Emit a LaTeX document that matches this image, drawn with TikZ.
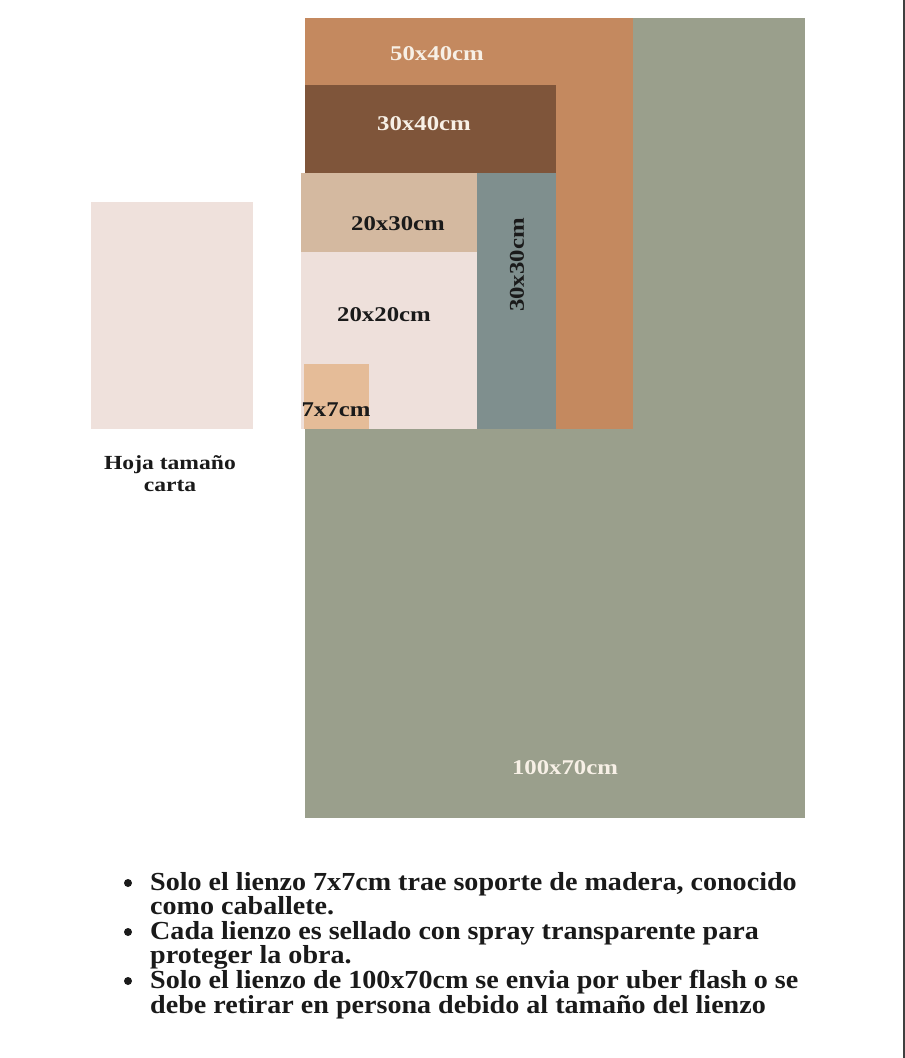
\documentclass[tikz,border=0pt]{standalone}
\usepackage{fontspec}
\setmainfont{Liberation Serif}
\newfontfamily\notefont[FakeStretch=1.08]{Liberation Serif}
\newfontfamily\sizefont[FakeStretch=1.18]{Liberation Serif}
\usetikzlibrary{positioning}

\definecolor{sage}{HTML}{9A9F8C}
\definecolor{terracotta}{HTML}{C4895F}
\definecolor{walnut}{HTML}{7F553A}
\definecolor{sand}{HTML}{D4B9A0}
\definecolor{slate}{HTML}{7F8F8E}
\definecolor{blush}{HTML}{EEE0DB}
\definecolor{peach}{HTML}{E5BC98}
\definecolor{paper}{HTML}{EFE1DC}
\definecolor{cream}{HTML}{F7F0E6}
\definecolor{ink}{HTML}{1A1A1A}

\begin{document}
\begin{tikzpicture}[
    x=1pt, y=-1pt,
    canvas/.style={
        rectangle,
        anchor=north west,
        inner sep=0pt,
        outer sep=0pt
    },
    size/.style={
        font=\sizefont\bfseries\fontsize{21}{22}\selectfont,
        inner sep=0pt
    },
    note/.style={
        anchor=north west,
        align=left,
        inner sep=0pt,
        text=ink,
        font=\notefont\bfseries\fontsize{26}{23}\selectfont
    },
    dot/.style={
        circle,
        fill=ink,
        inner sep=0pt,
        minimum size=8pt
    }
]
    \useasboundingbox (0,0) rectangle (905,1058);

    % lienzos
    \node [canvas, fill=sage, minimum width=500pt, minimum height=800pt] (c100x70) at (305,18) {};
    \node [canvas, fill=terracotta, minimum width=328pt, minimum height=411pt] (c50x40) at (305,18) {};
    \node [canvas, fill=walnut, minimum width=251pt, minimum height=88pt] (c30x40) at (305,85) {};
    \node [canvas, fill=sand, minimum width=176pt, minimum height=79pt] (c20x30) at (301,173) {};
    \node [canvas, fill=slate, minimum width=79pt, minimum height=256pt] (c30x30) at (477,173) {};
    \node [canvas, fill=blush, minimum width=176pt, minimum height=177pt] (c20x20) at (301,252) {};
    \node [canvas, fill=peach, minimum width=65pt, minimum height=65pt] (c7x7) at (304,364) {};
    \node [canvas, fill=paper, minimum width=162pt, minimum height=227pt] (hoja) at (91,202) {};

    % medidas
    \node [size, text=cream] (l50x40) at (437,54) {50x40cm};
    \node [size, text=cream] (l30x40) at (424,124) {30x40cm};
    \node [size, text=ink] (l20x30) at (398,224) {20x30cm};
    \node [size, text=ink, rotate=90] (l30x30) at (517,265) {30x30cm};
    \node [size, text=ink] (l20x20) at (384,315) {20x20cm};
    \node [size, text=ink] (l7x7) at (336,410) {7x7cm};
    \node [size, text=cream] (l100x70) at (565,768) {100x70cm};
    \node [size, text=ink, align=center, font=\sizefont\bfseries\fontsize{20}{22}\selectfont] (lhoja) at (170,474) {Hoja tamaño\\carta};

    % notas
    \node [note] (n1) at (150,872) {Solo el lienzo 7x7cm trae soporte de madera, conocido\\como caballete.};
    \node [note] (n2) at (150,921) {Cada lienzo es sellado con spray transparente para\\proteger la obra.};
    \node [note] (n3) at (150,970) {Solo el lienzo de 100x70cm se envia por uber flash o se\\debe retirar en persona debido al tamaño del lienzo};
    \foreach \n in {n1,n2,n3}
        \node [dot, xshift=-22pt, yshift=-11pt] at (\n.north west) {};

    \coordinate (edgetop) at (904,0);
    \coordinate (edgebot) at (904,1058);
    \draw [line width=1.2pt, color=black!75] (edgetop) -- (edgebot);
\end{tikzpicture}
\end{document}
